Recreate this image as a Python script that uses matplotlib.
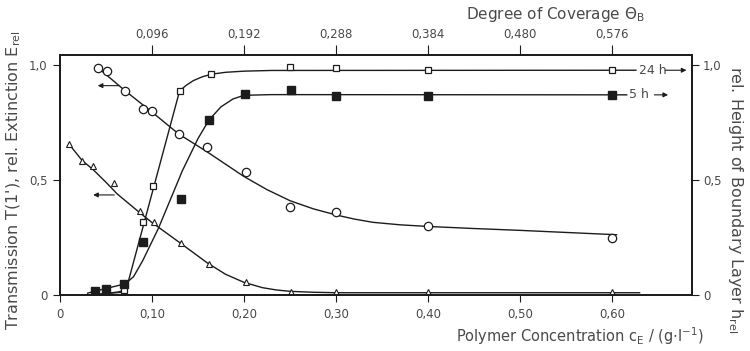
import matplotlib.pyplot as plt

plt.rcParams['font.family'] = ['DejaVu Sans']

INK = '#1c1c1c'
TXT = '#4a4a4a'

# measured points, polymer concentration in g/l
circ_x = [0.041, 0.051, 0.071, 0.090, 0.100, 0.129, 0.160, 0.202, 0.250, 0.300, 0.400, 0.600]
circ_y = [0.987, 0.974, 0.887, 0.809, 0.800, 0.700, 0.643, 0.535, 0.383, 0.361, 0.300, 0.248]

tri_x = [0.010, 0.024, 0.036, 0.059, 0.087, 0.102, 0.131, 0.162, 0.202, 0.251, 0.300, 0.400, 0.600]
tri_y = [0.657, 0.583, 0.561, 0.487, 0.365, 0.317, 0.226, 0.135, 0.057, 0.013, 0.013, 0.013, 0.013]

sq24_x = [0.050, 0.070, 0.090, 0.101, 0.130, 0.164, 0.250, 0.300, 0.400, 0.600]
sq24_y = [0.010, 0.020, 0.317, 0.474, 0.887, 0.961, 0.990, 0.987, 0.978, 0.978]

sq5_x = [0.038, 0.050, 0.070, 0.090, 0.131, 0.162, 0.201, 0.251, 0.300, 0.400, 0.600]
sq5_y = [0.017, 0.028, 0.050, 0.230, 0.417, 0.761, 0.874, 0.891, 0.866, 0.863, 0.870]

# hand-drawn fit curves
circ_fit_x = [0.045, 0.071, 0.100, 0.129, 0.160, 0.200, 0.225, 0.250, 0.275, 0.300, 0.320,
              0.340, 0.370, 0.400, 0.450, 0.500, 0.605]
circ_fit_y = [0.975, 0.887, 0.795, 0.700, 0.622, 0.515, 0.458, 0.410, 0.375, 0.348, 0.330,
              0.316, 0.305, 0.298, 0.289, 0.281, 0.262]

tri_fit_x = [0.010, 0.024, 0.036, 0.050, 0.062, 0.086, 0.100, 0.130, 0.160, 0.180, 0.200,
             0.220, 0.235, 0.250, 0.275, 0.300, 0.630]
tri_fit_y = [0.655, 0.585, 0.545, 0.490, 0.440, 0.360, 0.315, 0.228, 0.140, 0.090, 0.055,
             0.032, 0.022, 0.016, 0.012, 0.010, 0.010]

fit24_x = [0.030, 0.050, 0.064, 0.070, 0.073, 0.130, 0.137, 0.145, 0.155, 0.165, 0.180,
           0.200, 0.230, 0.626]
fit24_y = [0.000, 0.006, 0.014, 0.022, 0.040, 0.887, 0.911, 0.932, 0.949, 0.960, 0.968,
           0.973, 0.976, 0.977]

fit5_x = [0.030, 0.038, 0.050, 0.066, 0.072, 0.080, 0.090, 0.107, 0.133, 0.150, 0.162,
          0.175, 0.188, 0.200, 0.230, 0.616]
fit5_y = [0.008, 0.017, 0.028, 0.044, 0.052, 0.080, 0.150, 0.290, 0.540, 0.680, 0.761,
          0.818, 0.852, 0.868, 0.871, 0.870]

x_ticks = [0.0, 0.1, 0.2, 0.3, 0.4, 0.5, 0.6]
x_labels = ['0', '0,10', '0,20', '0,30', '0,40', '0,50', '0,60']
theta_ticks = [0.1, 0.2, 0.3, 0.4, 0.5, 0.6]
theta_labels = ['0,096', '0,192', '0,288', '0,384', '0,480', '0,576']
y_ticks = [0, 0.5, 1.0]
y_labels = ['0', '0,5', '1,0']

fig = plt.figure(figsize=(7.5, 3.51), dpi=100)
ax = fig.add_axes([0.08, 0.1595, 0.8427, 0.684])

ax.plot(circ_fit_x, circ_fit_y, color=INK, lw=1.0)
ax.plot(tri_fit_x, tri_fit_y, color=INK, lw=1.0)
ax.plot(fit24_x, fit24_y, color=INK, lw=1.0)
ax.plot(fit5_x, fit5_y, color=INK, lw=1.0)
ax.plot([0.030, 0.070], [0.0, 0.012], color=INK, lw=0.8)

ax.plot(circ_x, circ_y, 'o', ms=6, mfc='white', mec=INK, mew=0.9)
ax.plot(tri_x, tri_y, '^', ms=4.5, mfc='white', mec=INK, mew=0.8)
ax.plot(sq24_x, sq24_y, 's', ms=5, mfc='white', mec=INK, mew=0.9)
ax.plot(sq5_x, sq5_y, 's', ms=5.5, mfc=INK, mec=INK)

# curve labels for the two boundary layer series
ax.text(0.629, 0.977, '24 h', color=TXT, fontsize=9, va='center', ha='left')
ax.annotate('', xy=(0.684, 0.977), xytext=(0.655, 0.977),
            arrowprops=dict(arrowstyle='-|>', color=INK, lw=0.8, mutation_scale=7))
ax.text(0.619, 0.870, '5 h', color=TXT, fontsize=9, va='center', ha='left')
ax.annotate('', xy=(0.664, 0.870), xytext=(0.643, 0.870),
            arrowprops=dict(arrowstyle='-|>', color=INK, lw=0.8, mutation_scale=7))

# arrows pointing to the left axis
ax.annotate('', xy=(0.038, 0.91), xytext=(0.067, 0.91),
            arrowprops=dict(arrowstyle='-|>', color=INK, lw=0.8, mutation_scale=7))
ax.annotate('', xy=(0.033, 0.435), xytext=(0.062, 0.435),
            arrowprops=dict(arrowstyle='-|>', color=INK, lw=0.8, mutation_scale=7))

ax.set_xlim(0, 0.687)
ax.set_ylim(0, 1.0435)
ax.set_xticks(x_ticks)
ax.set_xticklabels(x_labels)
ax.set_yticks(y_ticks)
ax.set_yticklabels(y_labels)
ax.tick_params(direction='out', length=5, width=0.8, colors=INK, labelcolor=TXT,
               labelsize=8.5, pad=4)
for sp in ax.spines.values():
    sp.set_color(INK)
    sp.set_linewidth(1.1)

top = ax.twiny()
top.set_xlim(ax.get_xlim())
top.set_xticks(theta_ticks)
top.set_xticklabels(theta_labels)
top.tick_params(direction='out', length=7, width=0.8, colors=INK, labelcolor=TXT,
                labelsize=8.5, pad=3)

right = ax.twinx()
right.set_ylim(ax.get_ylim())
right.set_yticks(y_ticks)
right.set_yticklabels(y_labels)
right.tick_params(direction='out', length=5, width=0.8, colors=INK, labelcolor=TXT,
                  labelsize=8.5, pad=3)
for a in (top, right):
    for sp in a.spines.values():
        sp.set_color(INK)
        sp.set_linewidth(1.1)

fig.text(0.018, 0.487, "Transmission T(1'), rel. Extinction E$_\\mathregular{rel}$",
         rotation=90, ha='center', va='center', fontsize=11.5, color=TXT)
fig.text(0.981, 0.43, "rel. Height of Boundary Layer h$_\\mathregular{rel}$",
         rotation=-90, ha='center', va='center', fontsize=11.5, color=TXT)
fig.text(0.741, 0.958, "Degree of Coverage $\\Theta_\\mathregular{B}$",
         ha='center', va='center', fontsize=11, color=TXT)
fig.text(0.938, 0.043, "Polymer Concentration c$_\\mathregular{E}$ / (g$\\cdot$l$^{-1}$)",
         ha='right', va='center', fontsize=10.5, color=TXT)

fig.savefig('out.png', dpi=100, facecolor='white')
